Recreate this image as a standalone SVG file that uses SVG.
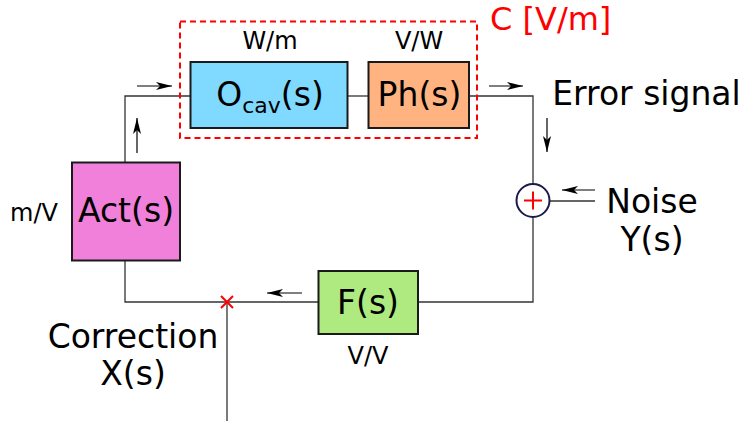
<svg xmlns="http://www.w3.org/2000/svg" width="742" height="421" viewBox="0 0 742 421">
<defs>
<marker id="ah" viewBox="0 0 16 10" refX="16" refY="5" markerWidth="16" markerHeight="10" markerUnits="userSpaceOnUse" orient="auto">
<path d="M0,1 L16,5 L0,9 L4,5 Z" fill="#000"/>
</marker>
</defs>
<style>
text{font-family:"DejaVu Sans",sans-serif;fill:#000}
.box{stroke:#1a1a1a;stroke-width:2}
.wire{fill:none;stroke:#333;stroke-width:1.3}
.arr{fill:none;stroke:#000;stroke-width:1.2;marker-end:url(#ah)}
.bl{font-size:33px;text-anchor:middle}
.unit{font-size:24px;text-anchor:middle}
.lab{font-size:33px;text-anchor:middle}
</style>
<g id="connectors">
<path class="wire" d="M190,96 H125 V162"/>
<path class="wire" d="M347,96 H368"/>
<path class="wire" d="M469,96 H533 V184"/>
<path class="wire" d="M550,201 H595"/>
<path class="wire" d="M533,217 V302 H418"/>
<path class="wire" d="M318,302 H125 V261"/>
<path class="wire" d="M227,302 V421"/>
<path class="arr" d="M137,86 H172"/>
<path class="arr" d="M137,153 V118"/>
<path class="arr" d="M489,86 H523"/>
<path class="arr" d="M547,118 V152"/>
<path class="arr" d="M595,190 H562"/>
<path class="arr" d="M302,293 H267"/>
</g>
<g id="C">
<rect x="180" y="21.5" width="297" height="116.5" fill="none" stroke="#ff0000" stroke-width="2" stroke-dasharray="6,4"/>
<text x="490" y="30" style="font-size:32px;fill:#ff0000">C [V/m]</text>
</g>
<g id="Ocav">
<rect class="box" x="190.5" y="62" width="157" height="66" fill="#80d9ff"/>
<text x="270" y="106" class="bl">O<tspan dy="7" style="font-size:22px">cav</tspan><tspan dy="-7">(s)</tspan></text>
<text x="270" y="49" class="unit">W/m</text>
</g>
<g id="Ph">
<rect class="box" x="368.5" y="62" width="100.5" height="66" fill="#ffb380"/>
<text x="419.5" y="106" class="bl">Ph(s)</text>
<text x="419" y="49" class="unit">V/W</text>
</g>
<g id="Act">
<rect class="box" x="72" y="162.5" width="108" height="98" fill="#f080da"/>
<text x="126" y="222" class="bl">Act(s)</text>
<text x="34" y="221" class="unit">m/V</text>
</g>
<g id="F">
<rect class="box" x="318.5" y="271" width="99.5" height="63" fill="#aeea80"/>
<text x="368" y="314" class="bl">F(s)</text>
<text x="368" y="364" class="unit">V/V</text>
</g>
<g id="sum">
<circle cx="533" cy="200.5" r="16.5" fill="#fff" stroke="#1a1a4d" stroke-width="2"/>
<path d="M524,200.5 H542 M533,191.5 V209.5" stroke="#ff0000" stroke-width="2"/>
</g>
<g id="cross">
<path d="M221,296 L233,308 M233,296 L221,308" stroke="#ff0000" stroke-width="2"/>
</g>
<g id="labels">
<text x="646.5" y="105" class="lab">Error signal</text>
<text x="652" y="213" class="lab">Noise</text>
<text x="652" y="251" class="lab">Y(s)</text>
<text x="133" y="348" class="lab">Correction</text>
<text x="133" y="385" class="lab">X(s)</text>
</g>
</svg>
